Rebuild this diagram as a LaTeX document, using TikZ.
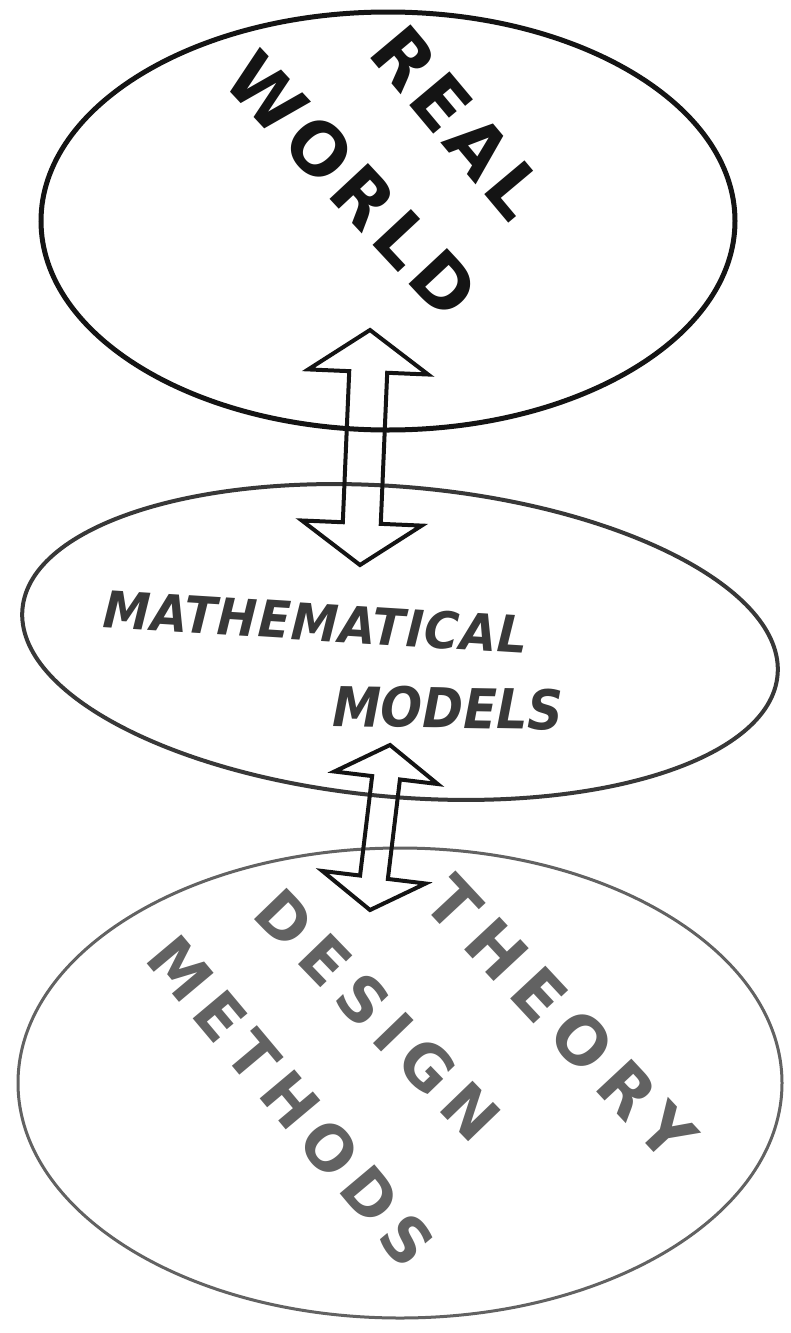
\documentclass[tikz,border=0pt]{standalone}
\usepackage{fontspec}
\usepackage{xcolor}
\definecolor{inkdark}{HTML}{141414}
\definecolor{inkmid}{HTML}{383838}
\definecolor{inklight}{HTML}{626262}
\newfontfamily\handfont{DejaVu Sans}
\usepackage{tikz}
\usetikzlibrary{shapes.geometric,calc}

% outline of a two-headed block arrow: from, to, half shaft, half head, head length
\newcommand{\twowayarrow}[5]{%
  \draw[arrowline] (#1)
    -- ($(#1)!#5!(#2)!#4!90:(#2)$) -- ($(#1)!#5!(#2)!#3!90:(#2)$)
    -- ($(#2)!#5!(#1)!#3!-90:(#1)$) -- ($(#2)!#5!(#1)!#4!-90:(#1)$)
    -- (#2)
    -- ($(#2)!#5!(#1)!#4!90:(#1)$) -- ($(#2)!#5!(#1)!#3!90:(#1)$)
    -- ($(#1)!#5!(#2)!#3!-90:(#2)$) -- ($(#1)!#5!(#2)!#4!-90:(#2)$)
    -- cycle;}

\begin{document}
\begin{tikzpicture}[x=1pt,y=-1pt,
  blob/.style={draw,ellipse,inner sep=0pt},
  word/.style={inner sep=0pt,text=#1},
  arrowline/.style={draw=inkdark,line width=4pt,line join=miter}]
\fill[white] (0,0) rectangle (790,1333);
\useasboundingbox (0,0) rectangle (790,1333);

% the three levels
\node[blob,draw=inkdark,line width=5pt,minimum width=694pt,minimum height=418pt] (world) at (388,221) {};
\node[blob,draw=inkmid,line width=4pt,rotate=-5,minimum width=758pt,minimum height=310pt] (models) at (400,642) {};
\node[blob,draw=inklight,line width=3pt,minimum width=764pt,minimum height=470pt] (methods) at (400,1083) {};

% labels
\node[word=inkdark,rotate=-50,font={\handfont\bfseries\fontsize{72}{72}\selectfont\addfontfeatures{LetterSpace=8}}] (real) at (458,122) {REAL};
\node[word=inkdark,rotate=-47,font={\handfont\bfseries\fontsize{72}{72}\selectfont\addfontfeatures{LetterSpace=10}}] (worldtxt) at (352,184) {WORLD};
\node[word=inkmid,rotate=-3.6,xscale=0.93,font={\handfont\bfseries\itshape\fontsize{51}{51}\selectfont\addfontfeatures{LetterSpace=2}}] (math) at (316,622) {MATHEMATICAL};
\node[word=inkmid,rotate=-1,xscale=0.89,font={\handfont\bfseries\itshape\fontsize{55}{55}\selectfont}] (modtxt) at (448,708) {MODELS};
\node[word=inklight,rotate=-47,font={\handfont\bfseries\fontsize{66}{66}\selectfont\addfontfeatures{LetterSpace=19}}] (theory) at (561,1018) {THEORY};
\node[word=inklight,rotate=-46,font={\handfont\bfseries\fontsize{62}{62}\selectfont\addfontfeatures{LetterSpace=18}}] (design) at (378,1015) {DESIGN};
\node[word=inklight,rotate=-50,font={\handfont\bfseries\fontsize{62}{62}\selectfont\addfontfeatures{LetterSpace=16}}] (meth) at (291,1101) {METHODS};

% arrow ends
\coordinate (w-up) at (370,330);
\coordinate (w-dn) at (360,565);
\coordinate (m-up) at (390,745);
\coordinate (m-dn) at (370,910);

\twowayarrow{w-up}{w-dn}{19pt}{60pt}{42pt}
\twowayarrow{m-up}{m-dn}{14pt}{52pt}{33pt}
\end{tikzpicture}
\end{document}
